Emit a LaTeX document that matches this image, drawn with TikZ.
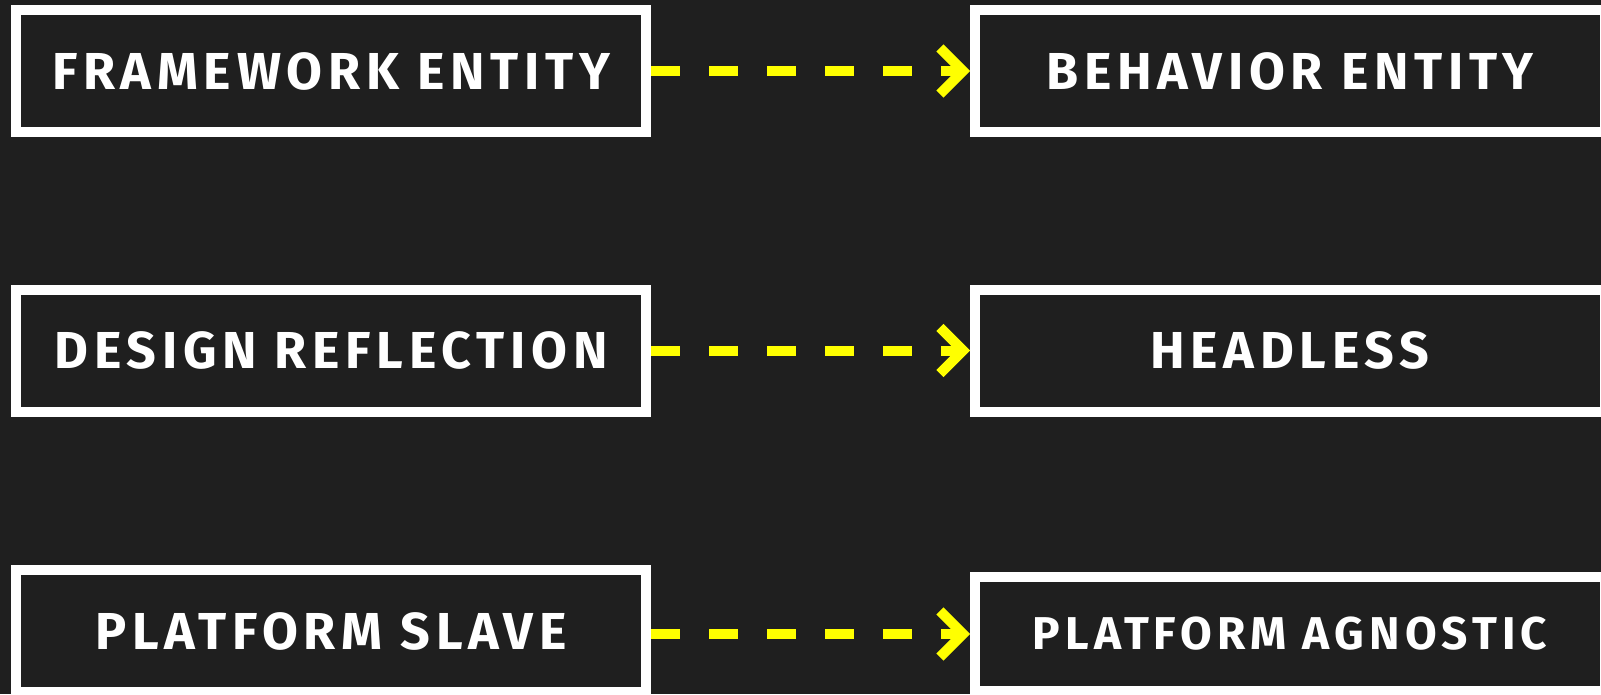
\documentclass[tikz,border=0pt]{standalone}
\usepackage{fontspec}
\setmainfont{Fira Sans}[LetterSpace=11]
\usepackage{tikz}
\usetikzlibrary{arrows.meta}
\definecolor{bgdark}{HTML}{1F1F1F}
\definecolor{flowyellow}{HTML}{FFFF00}

\begin{document}
\begin{tikzpicture}[x=1pt,y=-1pt,
    box/.style={draw=white,line width=10pt,fill=bgdark,minimum width=630pt,minimum height=122pt,inner sep=0pt,text=white,font=\fontsize{52}{60}\selectfont\bfseries},
    flow/.style={draw=flowyellow,line width=10pt,dash pattern=on 29pt off 29pt,-{Straight Barb[length=23pt,width=46pt,sharp]}}]
	 \fill[bgdark] (0,0) rectangle (1601,694);
	 \useasboundingbox (0,0) rectangle (1601,694);

	 \node at (331,71) [box] (framework) {FRAMEWORK ENTITY};
	 \node at (1290,71) [box] (behavior) {BEHAVIOR ENTITY};
	 \node at (331,350.5) [box] (design) {DESIGN REFLECTION};
	 \node at (1290,350.5) [box] (headless) {HEADLESS};
	 \node at (331,631) [box] (slave) {PLATFORM SLAVE};
	 \node at (1290,634) [box,minimum height=114pt,font=\fontsize{46}{54}\selectfont\bfseries] (agnostic) {PLATFORM AGNOSTIC};

	 \draw[flow] (framework) -- (behavior);
	 \draw[flow] (design) -- (headless);
	 \draw[flow] (slave.east |- agnostic.west) -- (agnostic);
\end{tikzpicture}
\end{document}
